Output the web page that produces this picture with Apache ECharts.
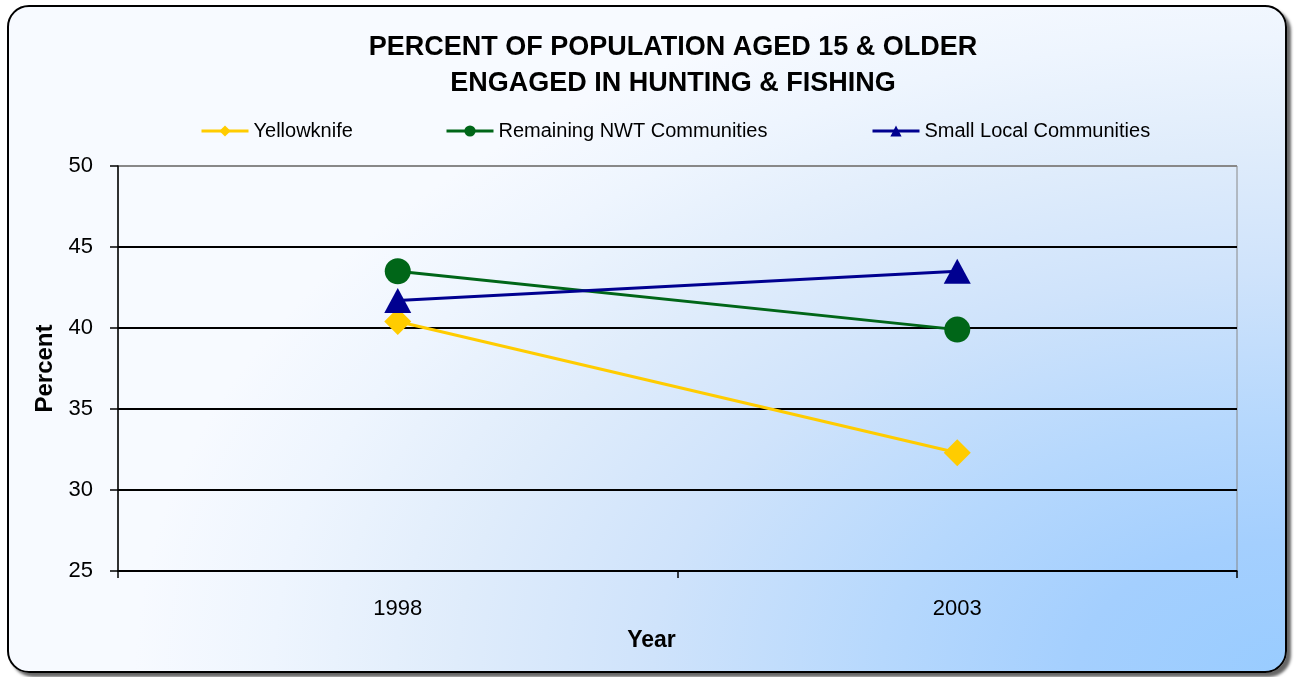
<!DOCTYPE html>
<html>
<head>
<meta charset="utf-8">
<title>Hunting & Fishing</title>
<script src="https://cdn.jsdelivr.net/npm/echarts@6/dist/echarts.min.js"></script>
<style>
  html, body { margin: 0; padding: 0; background: #fff; }
  #frame {
    position: absolute; left: 7px; top: 5px; width: 1276px; height: 664px;
    border: 2px solid #000; border-radius: 22px;
    box-shadow: 4px 4px 3px rgba(0, 0, 0, 0.6);
    background: radial-gradient(ellipse 1150px 720px at 100% 100%,
      #99ccff 0%, #a4cffe 18%, #b6d8fd 35%, #cfe3fb 55%, #dfecfb 72%, #eef5fe 88%, #f7faff 100%);
  }
  #chart { position: absolute; left: 0; top: 0; width: 1295px; height: 677px; }
</style>
</head>
<body>
<div id="frame"></div>
<div id="chart"></div>
<script>
const years = ["1998", "2003"];
const yellowknife = [40.4, 32.3];
const remainingNwt = [43.5, 39.9];
const smallLocal = [41.7, 43.5];
const seriesNames = ["Yellowknife", "Remaining NWT Communities", "Small Local Communities"];
const yTicks = { min: 25, max: 50, interval: 5 };

const colors = ["#ffcc00", "#006618", "#000090"];
const font = "'Liberation Sans', Arial, sans-serif";

const chart = echarts.init(document.getElementById("chart"));

// one legend per series so each item sits where Excel put it
const legendLefts = [200, 445, 871];
const legends = seriesNames.map((name, i) => ({
  data: [name],
  left: legendLefts[i],
  top: 121,
  padding: 0,
  itemWidth: 47,
  itemHeight: 14,
  itemGap: 0,
  lineStyle: { width: 3 },
  textStyle: { fontSize: 20, color: "#000", fontFamily: font },
}));

chart.setOption({
  animation: false,
  color: colors,
  textStyle: { fontFamily: font },
  title: {
    text: "PERCENT OF POPULATION AGED 15 & OLDER\nENGAGED IN HUNTING & FISHING",
    left: 673,
    top: 30,
    padding: 0,
    textAlign: "center",
    textStyle: {
      fontSize: 27,
      fontWeight: "bold",
      color: "#000",
      lineHeight: 36,
      fontFamily: font,
    },
  },
  legend: legends,
  grid: {
    left: 118,
    right: 58,
    top: 166,
    bottom: 106,
    show: true,
    borderColor: "#888",
    borderWidth: 1,
    backgroundColor: "transparent",
    outerBoundsMode: "none",
  },
  xAxis: {
    type: "category",
    data: years,
    boundaryGap: true,
    axisLine: { show: true, lineStyle: { color: "#000", width: 1.5 } },
    axisTick: { show: true, length: 7, lineStyle: { color: "#000", width: 1.5 } },
    axisLabel: { fontSize: 22, color: "#000", margin: 27 },
    splitLine: { show: false },
    name: "Year",
    nameLocation: "middle",
    nameGap: 58,
    nameTextStyle: {
      fontSize: 23,
      fontWeight: "bold",
      color: "#000",
      padding: [0, 52, 0, 0],
    },
  },
  yAxis: {
    type: "value",
    min: yTicks.min,
    max: yTicks.max,
    interval: yTicks.interval,
    axisLine: { show: true, lineStyle: { color: "#000", width: 1.5 } },
    axisTick: { show: true, length: 8, lineStyle: { color: "#000", width: 1.5 } },
    axisLabel: { fontSize: 22, color: "#000", margin: 25 },
    splitLine: {
      show: true,
      lineStyle: { color: ["#000", "#000", "#000", "#000", "#000", "#888"], width: 1.8 },
    },
    name: "Percent",
    nameLocation: "middle",
    nameRotate: 90,
    nameGap: 58,
    nameTextStyle: { fontSize: 24, fontWeight: "bold", color: "#000" },
  },
  series: [
    {
      name: seriesNames[0],
      type: "line",
      data: yellowknife,
      symbol: "diamond",
      symbolSize: 27,
      lineStyle: { width: 3, color: colors[0] },
      itemStyle: { color: colors[0] },
    },
    {
      name: seriesNames[1],
      type: "line",
      data: remainingNwt,
      symbol: "circle",
      symbolSize: 26,
      lineStyle: { width: 3, color: colors[1] },
      itemStyle: { color: colors[1] },
    },
    {
      name: seriesNames[2],
      type: "line",
      data: smallLocal,
      symbol: "triangle",
      symbolSize: [27, 25],
      lineStyle: { width: 3, color: colors[2] },
      itemStyle: { color: colors[2] },
    },
  ],
});
</script>
</body>
</html>
